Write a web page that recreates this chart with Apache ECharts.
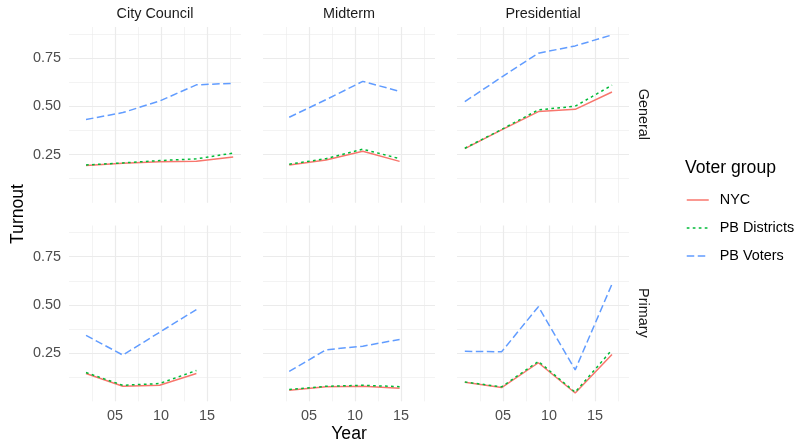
<!DOCTYPE html>
<html>
<head>
<meta charset="utf-8">
<script src="https://cdn.jsdelivr.net/npm/echarts@6/dist/echarts.min.js"></script>
<style>
  html, body { margin: 0; padding: 0; background: #ffffff; }
  #chart { width: 796px; height: 446px; }
</style>
</head>
<body>
<div id="chart"></div>
<script>
// Election dates as decimal years (November elections)
const councilYears = [2001.85, 2005.85, 2009.85, 2013.85, 2017.85];
const midtermYears = [2002.85, 2006.85, 2010.85, 2014.85];
const presidentialYears = [2000.85, 2004.85, 2008.85, 2012.85, 2016.85];

// City Council turnout
const councilGeneralNYC = [0.194, 0.205, 0.213, 0.215, 0.238];
const councilGeneralDistricts = [0.196, 0.207, 0.219, 0.228, 0.258];
const councilGeneralVoters = [0.432, 0.468, 0.528, 0.612, 0.620];
const councilPrimaryNYC = [0.144, 0.078, 0.083, 0.144];
const councilPrimaryDistricts = [0.149, 0.083, 0.092, 0.160];
const councilPrimaryVoters = [0.342, 0.240, null, 0.476];

// Midterm turnout
const midtermGeneralNYC = [0.196, 0.222, 0.267, 0.215];
const midtermGeneralDistricts = [0.200, 0.229, 0.278, 0.229];
const midtermGeneralVoters = [0.444, 0.535, 0.630, 0.578];
const midtermPrimaryNYC = [0.057, 0.075, 0.078, 0.068];
const midtermPrimaryDistricts = [0.061, 0.078, 0.083, 0.076];
const midtermPrimaryVoters = [0.155, 0.267, 0.286, 0.321];

// Presidential turnout
const presidentialGeneralNYC = [0.281, 0.378, 0.473, 0.485, 0.575];
const presidentialGeneralDistricts = [0.283, 0.381, 0.482, 0.501, 0.610];
const presidentialGeneralVoters = [0.525, 0.652, 0.776, 0.814, 0.871];
const presidentialPrimaryNYC = [0.099, 0.071, 0.200, 0.043, 0.243];
const presidentialPrimaryDistricts = [0.100, 0.075, 0.207, 0.047, 0.267];
const presidentialPrimaryVoters = [0.259, 0.257, 0.491, 0.163, 0.608];

const electionTypes = ['City Council', 'Midterm', 'Presidential'];
const ballotTypes = ['General', 'Primary'];
const groups = ['NYC', 'PB Districts', 'PB Voters'];
const yTickLabels = [0.25, 0.5, 0.75];
const xTickLabels = [2005, 2010, 2015];

const panelData = [
  // row 0: General
  [
    [councilYears, [councilGeneralNYC, councilGeneralDistricts, councilGeneralVoters]],
    [midtermYears, [midtermGeneralNYC, midtermGeneralDistricts, midtermGeneralVoters]],
    [presidentialYears, [presidentialGeneralNYC, presidentialGeneralDistricts, presidentialGeneralVoters]]
  ],
  // row 1: Primary
  [
    [councilYears, [councilPrimaryNYC, councilPrimaryDistricts, councilPrimaryVoters]],
    [midtermYears, [midtermPrimaryNYC, midtermPrimaryDistricts, midtermPrimaryVoters]],
    [presidentialYears, [presidentialPrimaryNYC, presidentialPrimaryDistricts, presidentialPrimaryVoters]]
  ]
];

const groupStyles = [
  { color: '#F8766D', type: 'solid' },
  { color: '#00BA38', type: [2.7, 3.3] },
  { color: '#619CFF', type: [7.5, 3.5] }
];

const FONT = "'Liberation Sans', Arial, sans-serif";
const GRID_COLOR = '#EBEBEB';
const colLefts = [69, 263, 457];
const panelWidth = 172;
const rowTops = [27, 225.5];
const panelHeight = 175.8;

const grids = [], xAxes = [], yAxes = [], series = [];
let idx = 0;
for (let r = 0; r < 2; r++) {
  for (let c = 0; c < 3; c++) {
    grids.push({ left: colLefts[c], top: rowTops[r], width: panelWidth, height: panelHeight, containLabel: false });
    xAxes.push({
      type: 'value', gridIndex: idx, min: 2000, max: 2018.7, interval: 5,
      axisLine: { show: false }, axisTick: { show: false },
      axisLabel: {
        show: r === 1, margin: 8, color: '#4D4D4D', fontSize: 14.4, fontFamily: FONT,
        formatter: v => xTickLabels.includes(v) ? String(v).slice(2) : ''
      },
      splitLine: { show: true, showMinLine: false, showMaxLine: false, lineStyle: { color: GRID_COLOR, width: 1.2 } },
      minorTick: { show: false, splitNumber: 2 },
      minorSplitLine: { show: true, lineStyle: { color: GRID_COLOR, width: 0.6 } }
    });
    yAxes.push({
      type: 'value', gridIndex: idx, min: 0, max: 0.912, interval: 0.25,
      axisLine: { show: false }, axisTick: { show: false },
      axisLabel: {
        show: c === 0, margin: 8, color: '#4D4D4D', fontSize: 14.4, fontFamily: FONT,
        formatter: v => yTickLabels.includes(v) ? v.toFixed(2) : ''
      },
      splitLine: { show: true, showMinLine: false, showMaxLine: false, lineStyle: { color: GRID_COLOR, width: 1.2 } },
      minorTick: { show: false, splitNumber: 2 },
      minorSplitLine: { show: true, lineStyle: { color: GRID_COLOR, width: 0.6 } }
    });
    const [years, values] = panelData[r][c];
    for (let g = 0; g < 3; g++) {
      series.push({
        type: 'line', name: groups[g], xAxisIndex: idx, yAxisIndex: idx,
        data: years.map((yr, i) => [yr, values[g][i]]).filter(p => p[1] !== null),
        symbol: 'none', showSymbol: false, smooth: false,
        lineStyle: { color: groupStyles[g].color, type: groupStyles[g].type, width: 1.5 },
        itemStyle: { color: groupStyles[g].color },
        emphasis: { disabled: true },
        z: 2 + g
      });
    }
    idx++;
  }
}

const graphics = [];
electionTypes.forEach((t, c) => {
  graphics.push({ type: 'text', x: colLefts[c] + panelWidth / 2, y: 14,
    style: { text: t, fill: '#1A1A1A', font: `14.4px ${FONT}`, textAlign: 'center', textVerticalAlign: 'middle' } });
});
ballotTypes.forEach((t, r) => {
  graphics.push({ type: 'text', x: 643, y: rowTops[r] + panelHeight / 2 - 0.5, rotation: -Math.PI / 2,
    style: { text: t, fill: '#1A1A1A', font: `14.4px ${FONT}`, textAlign: 'center', textVerticalAlign: 'middle' } });
});
graphics.push({ type: 'text', x: 18, y: 214, rotation: Math.PI / 2,
  style: { text: 'Turnout', fill: '#000000', font: `17.6px ${FONT}`, textAlign: 'center', textVerticalAlign: 'middle' } });
graphics.push({ type: 'text', x: 349, y: 434,
  style: { text: 'Year', fill: '#000000', font: `17.6px ${FONT}`, textAlign: 'center', textVerticalAlign: 'middle' } });
graphics.push({ type: 'text', x: 685, y: 168,
  style: { text: 'Voter group', fill: '#000000', font: `17.6px ${FONT}`, textAlign: 'left', textVerticalAlign: 'middle' } });

const chart = echarts.init(document.getElementById('chart'), null, { renderer: 'canvas' });
chart.setOption({
  animation: false,
  backgroundColor: '#ffffff',
  grid: grids,
  xAxis: xAxes,
  yAxis: yAxes,
  series: series,
  legend: {
    data: groups, orient: 'vertical', left: 686, top: 193, padding: 0,
    itemWidth: 22, itemHeight: 14, itemGap: 14,
    itemStyle: { opacity: 0 },
    lineStyle: { width: 1.5 },
    textStyle: { fontSize: 14.4, color: '#000000', fontFamily: FONT, padding: [0, 0, 0, 6] },
    selectedMode: false
  },
  graphic: graphics
});
</script>
</body>
</html>
